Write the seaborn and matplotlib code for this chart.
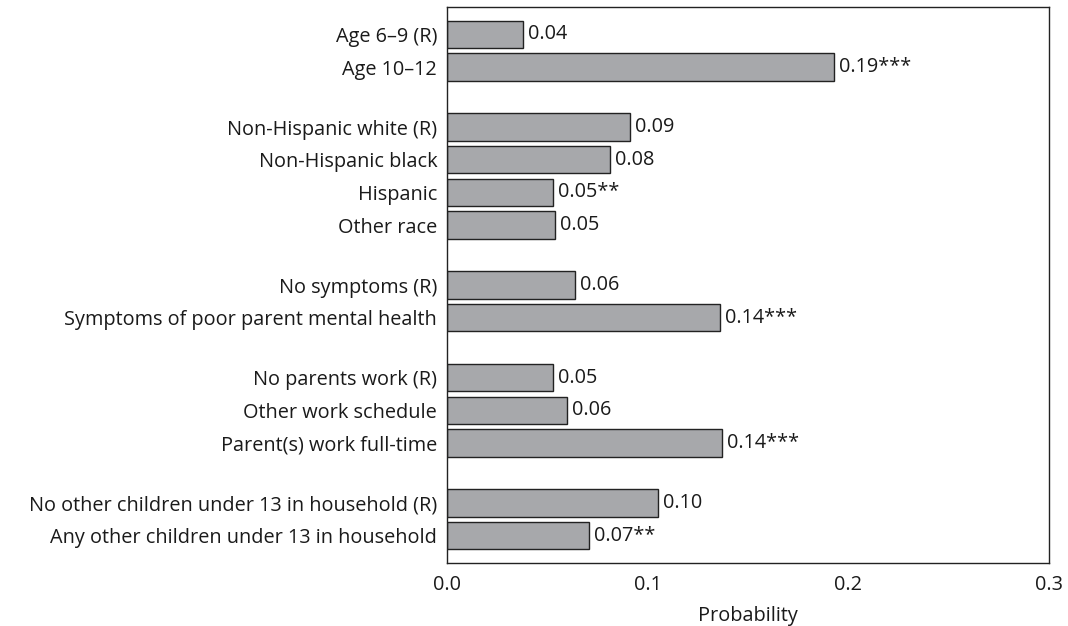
import matplotlib
matplotlib.use("Agg")
import matplotlib.pyplot as plt
import seaborn as sns
import numpy as np
import pandas as pd

# Predictor groups, each listed top to bottom
groups = [
    ["Age 6–9 (R)", "Age 10–12"],
    ["Non-Hispanic white (R)", "Non-Hispanic black", "Hispanic", "Other race"],
    ["No symptoms (R)", "Symptoms of poor parent mental health"],
    ["No parents work (R)", "Other work schedule", "Parent(s) work full-time"],
    ["No other children under 13 in household (R)",
     "Any other children under 13 in household"],
]
probabilities = [
    [0.038, 0.193],
    [0.091, 0.081, 0.053, 0.054],
    [0.064, 0.136],
    [0.053, 0.060, 0.137],
    [0.105, 0.071],
]
value_labels = [
    ["0.04", "0.19***"],
    ["0.09", "0.08", "0.05**", "0.05"],
    ["0.06", "0.14***"],
    ["0.05", "0.06", "0.14***"],
    ["0.10", "0.07**"],
]

# Row positions: one unit per bar, a wider gap between groups
group_gap = 1.83
rows = []
pos = 0.0
for g, (names, vals, labs) in enumerate(zip(groups, probabilities, value_labels)):
    for name, v, lab in zip(names, vals, labs):
        rows.append({"category": name, "prob": v, "label": lab, "pos": pos})
        pos += 1.0
    pos += group_gap - 1.0
df = pd.DataFrame(rows)

sns.set_theme(style="white")
plt.rcParams["font.family"] = ["Open Sans", "DejaVu Sans"]

FS = 14.3
TXT = "#1a1a1a"

fig = plt.figure(figsize=(10.68, 6.26), dpi=100)
ax = fig.add_axes([0.4185, 0.1011, 0.5637, 0.8877])

sns.barplot(data=df, x="prob", y="pos", orient="y", native_scale=True,
            color="#a7a8ab", saturation=1, edgecolor="#222222",
            linewidth=1.0, width=0.84, ax=ax)

for _, r in df.iterrows():
    ax.text(r["prob"] + 0.0025, r["pos"], r["label"], va="center", ha="left",
            fontsize=FS, color=TXT)

ax.set_xlim(0, 0.3)
ax.set_ylim(df["pos"].max() + 0.83, -0.84)
ax.set_xticks([0.0, 0.1, 0.2, 0.3])
ax.set_xticklabels(["0.0", "0.1", "0.2", "0.3"])
ax.set_yticks(df["pos"])
ax.set_yticklabels(df["category"])
ax.tick_params(axis="x", direction="in", length=7, width=1, color="#222222",
               labelsize=FS, pad=9, labelcolor=TXT)
ax.tick_params(axis="y", length=0, labelsize=FS, pad=7, labelcolor=TXT)
ax.set_xlabel("Probability", fontsize=FS, labelpad=8, color=TXT)
ax.set_ylabel("")
for s in ax.spines.values():
    s.set_visible(True)
    s.set_color("#222222")
    s.set_linewidth(1.0)

fig.savefig("out.png", dpi=100, facecolor="white")
